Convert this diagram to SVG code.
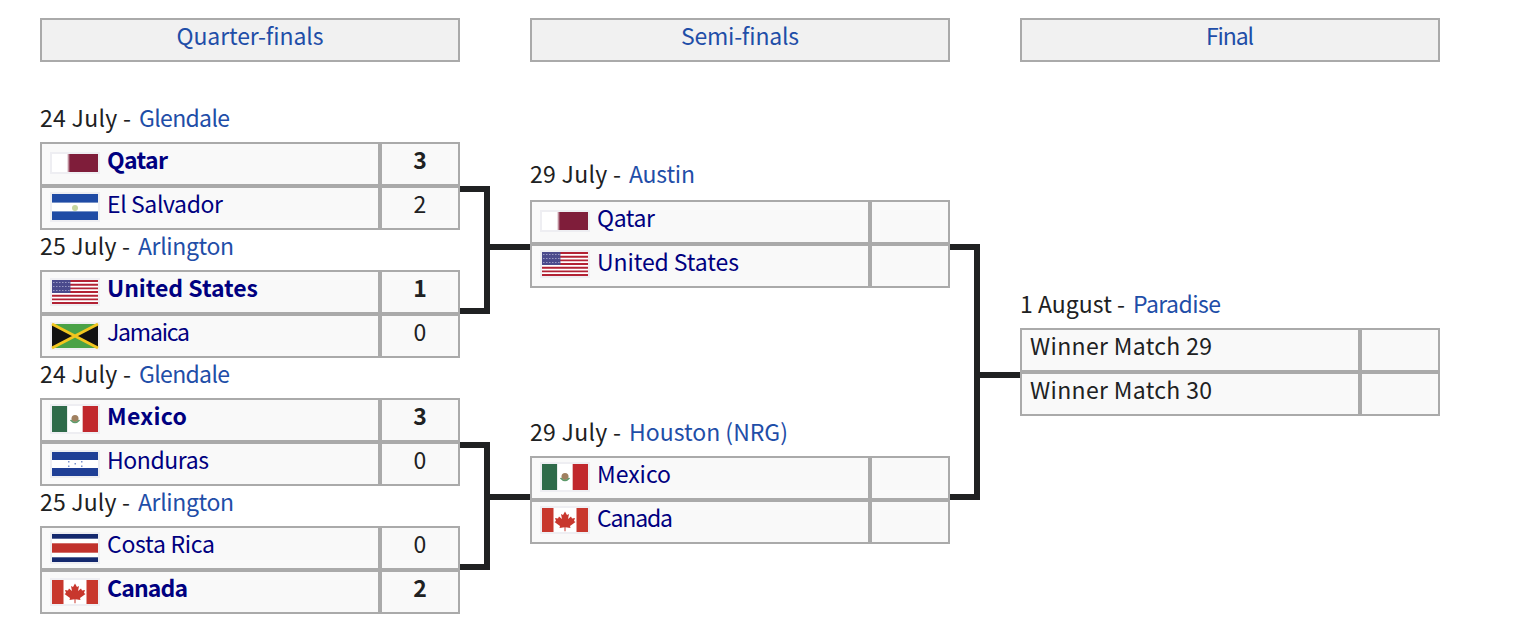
<svg xmlns="http://www.w3.org/2000/svg" width="1532" height="640" viewBox="0 0 1532 640">
<style>
text{font-family:"Noto Sans CJK KR","Noto Sans",sans-serif;font-size:23px;fill:#202122}
.link{fill:#1f4ea8}
.h{text-anchor:middle;fill:#1f4ea8}
.team{fill:#000080}
.b{font-weight:700}
.s{text-anchor:middle}
.box{fill:#f9f9f9;stroke:#aaa;stroke-width:2}
.head{fill:#f1f1f1;stroke:#aaa;stroke-width:2}
.sep{stroke:#aaa;stroke-width:4;fill:none}
.conn{stroke:#202122;stroke-width:6;fill:none}
.fb{fill:#eeeef2}
</style>
<defs>
<linearGradient id="qa-edge" x1="0" x2="1" y1="0" y2="0"><stop offset="0" stop-color="#fff"/><stop offset="1" stop-color="#7f1d3a"/></linearGradient>
<g id="f-qa"><rect x="-2" y="-2" width="50" height="22" class="fb"/><rect width="15" height="18" fill="#fff"/><rect x="15" width="3" height="18" fill="url(#qa-edge)"/><rect x="18" width="28" height="18" fill="#7f1d3a"/></g>
<g id="f-sv"><rect x="-2" y="-2" width="50" height="30" class="fb"/><rect width="46" height="26" fill="#fff"/><rect width="46" height="8.6" fill="#1f4ba5"/><rect y="17.4" width="46" height="8.6" fill="#1f4ba5"/><circle cx="23" cy="14" r="3" fill="#c5d6a0"/></g>
<g id="f-us"><rect x="-2" y="-2" width="50" height="28" class="fb"/><rect width="46" height="24" fill="#fff"/><path d="M0 1h46M0 4.700h46M0 8.400h46M0 12h46M0 15.700h46M0 19.400h46M0 23h46" stroke="#b22234" stroke-width="1.850"/><rect width="18.400" height="13" fill="#4a4a8c"/><path d="M1 2.500h17M1 6.500h17M1 10.500h17" stroke="#9a9ac4" stroke-width="1.200" stroke-dasharray="1.500 1.500"/></g>
<g id="f-jm"><rect x="-2" y="-2" width="50" height="28" class="fb"/><rect width="46" height="24" fill="#4aa247"/><path d="M0 0L23 12L0 24ZM46 0L23 12L46 24Z" fill="#111"/><path d="M0 0L46 24M46 0L0 24" stroke="#f2c61f" stroke-width="3"/></g>
<g id="f-mx"><rect x="-2" y="-2" width="50" height="30" class="fb"/><rect width="15.300" height="26" fill="#2f6b4a"/><rect x="15.300" width="15.400" height="26" fill="#fff"/><rect x="30.700" width="15.300" height="26" fill="#c1282d"/><circle cx="23" cy="12.500" r="3.500" fill="#a08060"/><path d="M18.500 14q4.500 5 9 0" stroke="#5d9a6a" stroke-width="1.500" fill="none"/></g>
<g id="f-hn"><rect x="-2" y="-2" width="50" height="28" class="fb"/><rect width="46" height="24" fill="#fff"/><rect width="46" height="8" fill="#1f3f96"/><rect y="16" width="46" height="8" fill="#1f3f96"/><g fill="#7a92cc"><rect x="16" y="9" width="1.500" height="1.500"/><rect x="29" y="9" width="1.500" height="1.500"/><rect x="22.500" y="11" width="1.500" height="1.500"/><rect x="16" y="13.500" width="1.500" height="1.500"/><rect x="29" y="13.500" width="1.500" height="1.500"/></g></g>
<g id="f-cr"><rect x="-2" y="-2" width="50" height="32" class="fb"/><rect width="46" height="28" fill="#fff"/><rect width="46" height="4.700" fill="#14296e"/><rect y="23.300" width="46" height="4.700" fill="#14296e"/><rect y="9.300" width="46" height="9.400" fill="#c1322d"/></g>
<g id="f-ca"><rect x="-2" y="-2" width="50" height="28" class="fb"/><rect width="46" height="24" fill="#fff"/><rect width="11.500" height="24" fill="#c8372d"/><rect x="34.500" width="11.500" height="24" fill="#c8372d"/><path d="M23 3.500l2 3.500 2-1-1 5 3-2.500 1 2 3-.5-1 3 1.500 1-5.500 4 .5 2-5-.7v4h-1v-4l-5 .7.500-2-5.500-4 1.500-1-1-3 3 .5 1-2 3 2.500-1-5 2 1z" fill="#c8372d"/></g>
</defs>
<g id="header-qf"><rect class="head" x="41" y="19" width="418" height="42"/><text class="h" x="250" y="45" textLength="147">Quarter-finals</text></g>
<g id="header-sf"><rect class="head" x="531" y="19" width="418" height="42"/><text class="h" x="740" y="45" textLength="118">Semi-finals</text></g>
<g id="header-f"><rect class="head" x="1021" y="19" width="418" height="42"/><text class="h" x="1230" y="45" textLength="48">Final</text></g>
<g id="connectors">
<path class="conn" d="M460 189H487V311H460M487 247H530"/>
<path class="conn" d="M460 445H487V567H460M487 497H530"/>
<path class="conn" d="M950 247H977V497H950M977 375H1020"/>
</g>
<g id="qf1"><text x="40" y="127" textLength="91">24 July -</text><text class="link" x="139" y="127" textLength="91">Glendale</text>
<rect class="box" x="41" y="143" width="418" height="86"/><path class="sep" d="M42 186H458M380 144V228"/>
<use href="#f-qa" x="52" y="154"/><use href="#f-sv" x="52" y="194"/>
<text class="team b" x="107" y="169" textLength="61">Qatar</text><text class="team" x="107" y="213" textLength="116">El Salvador</text>
<text class="s b" x="420" y="169">3</text><text class="s" x="420" y="213">2</text></g>
<g id="qf2"><text x="40" y="255" textLength="90">25 July -</text><text class="link" x="138" y="255" textLength="96">Arlington</text>
<rect class="box" x="41" y="271" width="418" height="86"/><path class="sep" d="M42 314H458M380 272V356"/>
<use href="#f-us" x="52" y="280"/><use href="#f-jm" x="52" y="324"/>
<text class="team b" x="107" y="297" textLength="151">United States</text><text class="team" x="107" y="341" textLength="83">Jamaica</text>
<text class="s b" x="420" y="297">1</text><text class="s" x="420" y="341">0</text></g>
<g id="qf3"><text x="40" y="383" textLength="91">24 July -</text><text class="link" x="139" y="383" textLength="91">Glendale</text>
<rect class="box" x="41" y="399" width="418" height="86"/><path class="sep" d="M42 442H458M380 400V484"/>
<use href="#f-mx" x="52" y="406"/><use href="#f-hn" x="52" y="452"/>
<text class="team b" x="107" y="425" textLength="80">Mexico</text><text class="team" x="107" y="469" textLength="102">Honduras</text>
<text class="s b" x="420" y="425">3</text><text class="s" x="420" y="469">0</text></g>
<g id="qf4"><text x="40" y="511" textLength="90">25 July -</text><text class="link" x="138" y="511" textLength="96">Arlington</text>
<rect class="box" x="41" y="527" width="418" height="86"/><path class="sep" d="M42 570H458M380 528V612"/>
<use href="#f-cr" x="52" y="534"/><use href="#f-ca" x="52" y="580"/>
<text class="team" x="107" y="553" textLength="108">Costa Rica</text><text class="team b" x="107" y="597" textLength="81">Canada</text>
<text class="s" x="420" y="553">0</text><text class="s b" x="420" y="597">2</text></g>
<g id="sf1"><text x="530" y="183" textLength="91">29 July -</text><text class="link" x="629" y="183" textLength="66">Austin</text>
<rect class="box" x="531" y="201" width="418" height="86"/><path class="sep" d="M532 244H948M870 202V286"/>
<use href="#f-qa" x="542" y="212"/><use href="#f-us" x="542" y="252"/>
<text class="team" x="597" y="227" textLength="58">Qatar</text><text class="team" x="597" y="271" textLength="142">United States</text></g>
<g id="sf2"><text x="530" y="441" textLength="91">29 July -</text><text class="link" x="629" y="441" textLength="159">Houston (NRG)</text>
<rect class="box" x="531" y="457" width="418" height="86"/><path class="sep" d="M532 500H948M870 458V542"/>
<use href="#f-mx" x="542" y="464"/><use href="#f-ca" x="542" y="508"/>
<text class="team" x="597" y="483" textLength="74">Mexico</text><text class="team" x="597" y="527" textLength="76">Canada</text></g>
<g id="final"><text x="1020" y="313" textLength="105">1 August -</text><text class="link" x="1133" y="313" textLength="88">Paradise</text>
<rect class="box" x="1021" y="329" width="418" height="86"/><path class="sep" d="M1022 372H1438M1360 330V414"/>
<text x="1030" y="355" textLength="182">Winner Match 29</text><text x="1030" y="399" textLength="182">Winner Match 30</text></g>
</svg>
